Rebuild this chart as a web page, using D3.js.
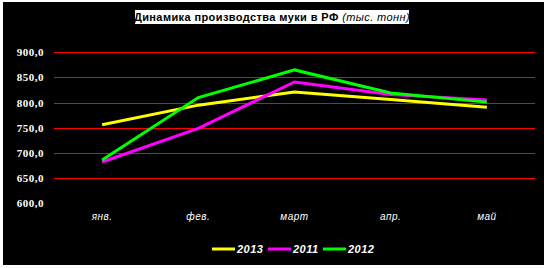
<!DOCTYPE html>
<html lang="ru">
<head>
    <meta charset="UTF-8">
    <title>Динамика производства муки</title>
    <script src="https://cdn.jsdelivr.net/npm/d3@7"></script>
    <style>
        body { margin: 0; background: #fff; }
        svg { display: block; }
    </style>
</head>
<body>
    <script>
        const months = ['янв.', 'фев.', 'март', 'апр.', 'май']
        const yTicks = [600, 650, 700, 750, 800, 850, 900]
        const years = ['2013', '2011', '2012']
        const colors = ['#ffff00', '#ff00ff', '#00ff00']
        const v2013 = [756, 795, 821, 806, 791]
        const v2011 = [682, 749, 841, 816, 805]
        const v2012 = [686, 810, 865, 819, 801]

        const series = [v2013, v2011, v2012]

        let w = 547
        let h = 268

        let svg = d3.select('body').append('svg')
            .attr('width', w)
            .attr('height', h)

        // black chart area, white shows at left/bottom edge
        svg.append('rect')
            .attr('x', 3).attr('y', 2)
            .attr('width', 541).attr('height', 263)
            .attr('fill', '#000')

        // title
        svg.append('rect')
            .attr('x', 135).attr('y', 10)
            .attr('width', 274).attr('height', 14)
            .attr('fill', '#fff')
        let title = svg.append('text')
            .attr('x', 272).attr('y', 21)
            .attr('text-anchor', 'middle')
            .style('font-family', 'Arial, "Liberation Sans", sans-serif')
            .style('font-size', '11px')
            .style('letter-spacing', '0.4px')
            .attr('fill', '#000')
        title.append('tspan').style('font-weight', 'bold').text('Динамика производства муки в РФ ')
        title.append('tspan').style('font-style', 'italic').text('(тыс. тонн)')

        let xScale = d3.scaleBand()
            .domain(months)
            .range([54, 535])

        let yScale = d3.scaleLinear()
            .domain([600, 900])
            .range([203.3, 52.3])

        // gridlines
        svg.append('g')
            .selectAll('line')
            .data(yTicks.filter(d => d > 600))
            .enter()
            .append('line')
            .attr('x1', 54).attr('x2', 535)
            .attr('y1', d => Math.round(yScale(d)) + 0.5)
            .attr('y2', d => Math.round(yScale(d)) + 0.5)
            .attr('stroke', '#ff0000')
            .attr('stroke-width', 1)
            .attr('shape-rendering', 'crispEdges')

        let yAxis = d3.axisLeft(yScale)
            .tickValues(yTicks)
            .tickSize(0)
            .tickPadding(0)
            .tickFormat(d => d3.format('.1f')(d).replace('.', ','))

        let gy = svg.append('g')
            .attr('transform', 'translate(44,0)')
            .call(yAxis)
        gy.select('.domain').remove()
        gy.selectAll('text')
            .attr('fill', '#fff')
            .style('font-family', '"Liberation Serif", "Times New Roman", serif')
            .style('font-weight', 'bold')
            .style('font-size', '11px')
            .style('letter-spacing', '0.5px')

        let xAxis = d3.axisBottom(xScale).tickSize(0).tickPadding(0)
        let gx = svg.append('g')
            .attr('transform', 'translate(0,213)')
            .call(xAxis)
        gx.select('.domain').remove()
        gx.selectAll('text')
            .attr('fill', '#fff')
            .style('font-family', 'Arial, "Liberation Sans", sans-serif')
            .style('font-style', 'italic')
            .style('font-size', '10px')
            .style('letter-spacing', '0.5px')

        let line = d3.line()
            .x((d, i) => xScale(months[i]) + xScale.bandwidth() / 2)
            .y(d => yScale(d))

        series.forEach((s, i) => {
            svg.append('path')
                .datum(s)
                .attr('d', line)
                .attr('fill', 'none')
                .attr('stroke', colors[i])
                .attr('stroke-width', 3)
        })

        // legend
        let legendX = [212, 268, 323]
        let lg = svg.append('g')
        years.forEach((y, i) => {
            lg.append('line')
                .attr('x1', legendX[i]).attr('x2', legendX[i] + 23)
                .attr('y1', 249).attr('y2', 249)
                .attr('stroke', colors[i])
                .attr('stroke-width', 3)
            lg.append('text')
                .attr('x', legendX[i] + 25).attr('y', 253)
                .attr('fill', '#fff')
                .style('font-family', 'Arial, "Liberation Sans", sans-serif')
                .style('font-weight', 'bold')
                .style('font-style', 'italic')
                .style('font-size', '11px')
                .style('letter-spacing', '0.5px')
                .text(y)
        })
    </script>
</body>
</html>
